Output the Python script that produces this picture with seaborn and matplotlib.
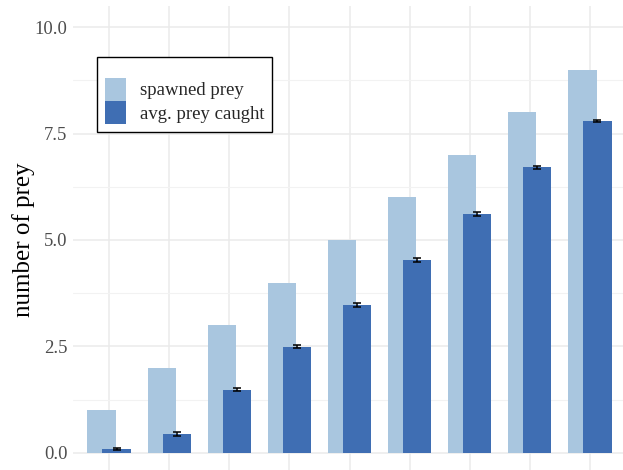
import numpy as np
import pandas as pd
import matplotlib
matplotlib.use("Agg")
import matplotlib.pyplot as plt
import seaborn as sns

# Data: prey spawned per round and average prey caught (with standard error)
spawned = [1, 2, 3, 4, 5, 6, 7, 8, 9]
caught = [0.08, 0.44, 1.48, 2.49, 3.47, 4.53, 5.61, 6.71, 7.80]
caught_err = [0.02, 0.05, 0.04, 0.04, 0.04, 0.04, 0.04, 0.04, 0.03]
y_ticks = [0.0, 2.5, 5.0, 7.5, 10.0]
y_tick_labels = ["0.0", "2.5", "5.0", "7.5", "10.0"]

light_blue = "#a9c6df"
dark_blue = "#3f6eb3"

sns.set_theme(style="white")
plt.rcParams["font.family"] = ["Liberation Serif", "DejaVu Serif"]

idx = np.arange(len(spawned))
offset = 0.125
df = pd.DataFrame({
    "pos_spawned": idx - offset,
    "pos_caught": idx + offset,
    "spawned": spawned,
    "caught": caught,
    "err": caught_err,
})

fig = plt.figure(figsize=(6.23, 4.70), dpi=100)
ax = fig.add_axes([73 / 623, -4 / 470, 553 / 623, 468 / 470])

sns.barplot(data=df, x="pos_spawned", y="spawned", native_scale=True,
            width=0.47, color=light_blue, saturation=1, errorbar=None,
            linewidth=0, edgecolor="none",
            label="spawned prey", ax=ax, zorder=2)
sns.barplot(data=df, x="pos_caught", y="caught", native_scale=True,
            width=0.47, color=dark_blue, saturation=1, errorbar=None,
            linewidth=0, edgecolor="none",
            label="avg. prey caught", ax=ax, zorder=3)
ax.errorbar(df["pos_caught"], df["caught"], yerr=df["err"], fmt="none",
            ecolor="black", elinewidth=1.1, capsize=3.2, capthick=1.1, zorder=4)

ax.set_xlim(-0.6, 8.6)
ax.set_ylim(-0.5, 10.5)

# Grid: majors on categories / y ticks, minors halfway between y ticks
ax.set_xticks(idx)
ax.set_xticklabels([])
ax.set_yticks(y_ticks)
ax.set_yticklabels(y_tick_labels)
ax.set_yticks([1.25, 3.75, 6.25, 8.75], minor=True)
ax.grid(True, which="major", color="#ebebeb", linewidth=1.1, zorder=0)
ax.grid(True, which="minor", axis="y", color="#f2f2f2", linewidth=0.8, zorder=0)
ax.set_axisbelow(True)
for s in ax.spines.values():
    s.set_visible(False)
ax.tick_params(axis="both", which="both", length=0, pad=4)
ax.tick_params(axis="y", labelsize=13.4, labelcolor="#4d4d4d")
ax.set_xlabel("")
ax.set_ylabel("number of prey", fontsize=18, color="black", labelpad=0)

leg = ax.legend(loc="upper left", bbox_to_anchor=(97 / 623, 1 - 57 / 470),
                bbox_transform=fig.transFigure, borderaxespad=0,
                fontsize=13.5, title=" ", title_fontsize=11,
                handlelength=1.17, handleheight=1.55, labelspacing=0.0,
                handletextpad=0.7, borderpad=0.4, frameon=True, fancybox=False)
frame = leg.get_frame()
frame.set_edgecolor("black")
frame.set_linewidth(1.0)
frame.set_facecolor("white")
frame.set_alpha(1)

fig.savefig("out.png", dpi=100)
